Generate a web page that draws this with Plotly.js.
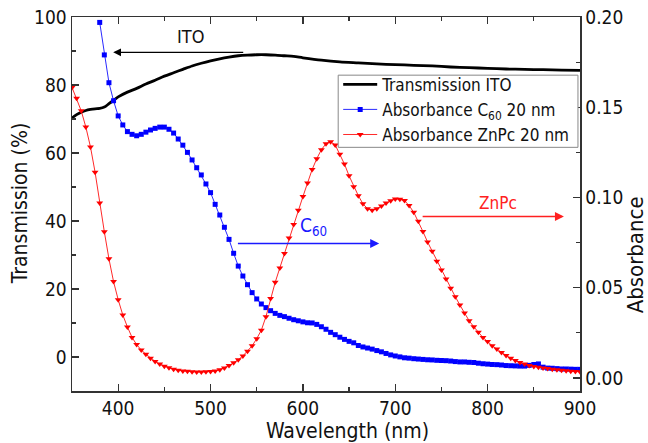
<!DOCTYPE html>
<html>
<head>
<meta charset="utf-8">
<script src="https://cdn.plot.ly/plotly-3.0.1.min.js"></script>
<style>html,body{margin:0;padding:0;background:#fff;}#chart{width:648px;height:443px;}</style>
</head>
<body>
<div id="chart"></div>
<script>
// ITO transmission (%)
const itoWl = [350,355,360,365,370,375,380,385,390,395,400,410,420,430,440,450,460,470,480,490,500,510,520,530,540,550,560,570,580,590,600,620,640,660,680,700,720,740,760,780,800,820,840,860,880,900];
const itoT  = [70.3,71.3,72.0,72.5,72.8,73.0,73.1,73.5,74.5,75.5,76.5,77.9,79.0,80.3,81.4,82.6,83.6,84.6,85.6,86.4,87.1,87.7,88.2,88.6,88.8,88.9,88.9,88.8,88.6,88.4,88.0,87.3,86.8,86.5,86.2,86.0,85.8,85.6,85.3,85.1,84.9,84.7,84.6,84.5,84.4,84.3];

// C60 absorbance
const c60Wl = [380,385,390,395,400,405,410,415,420,425,430,435,440,445,450,455,460,465,470,475,480,485,490,495,500,505,510,515,520,525,530,535,540,545,550,555,560,565,570,575,580,585,590,595,600,605,610,615,620,625,630,635,640,645,650,655,660,665,670,675,680,685,690,695,700,705,710,715,720,725,730,735,740,745,750,755,760,765,770,775,780,785,790,795,800,805,810,815,820,825,830,835,840,845,850,855,860,865,870,875,880,885,890,895,900];
const c60A  = [0.197,0.179,0.1636,0.1536,0.1452,0.1402,0.1365,0.1350,0.1342,0.1350,0.1362,0.1374,0.1383,0.1390,0.1390,0.1378,0.1357,0.1324,0.1290,0.1250,0.1208,0.1165,0.1125,0.1075,0.1027,0.0962,0.0903,0.0835,0.0768,0.0691,0.0620,0.0565,0.0517,0.0473,0.0438,0.0410,0.0390,0.0373,0.0358,0.0347,0.0340,0.0331,0.0323,0.0317,0.0311,0.0306,0.0305,0.0297,0.0284,0.0270,0.0253,0.0240,0.0226,0.0214,0.0203,0.0195,0.0180,0.0172,0.0166,0.0160,0.0152,0.0145,0.0136,0.0128,0.0122,0.0117,0.0112,0.0110,0.0107,0.0105,0.0103,0.0101,0.0100,0.0098,0.0097,0.0096,0.0094,0.0091,0.0089,0.0089,0.0087,0.0086,0.0082,0.0079,0.0077,0.0075,0.0074,0.0072,0.0069,0.0068,0.0067,0.0066,0.0066,0.0070,0.0075,0.0078,0.0060,0.0055,0.0054,0.0052,0.0050,0.0050,0.0049,0.0048,0.0048];

// ZnPc absorbance
const znpcWl = [350,355,360,365,370,375,380,385,390,395,400,405,410,415,420,425,430,435,440,445,450,455,460,465,470,475,480,485,490,495,500,505,510,515,520,525,530,535,540,545,550,555,560,565,570,575,580,585,590,595,600,605,610,615,620,625,630,635,640,645,650,655,660,665,670,675,680,685,690,695,700,705,710,715,720,725,730,735,740,745,750,755,760,765,770,775,780,785,790,795,800,805,810,815,820,825,830,835,840,845,850,855,860,865,870,875,880,885,890,895,900];
const znpcA  = [0.161,0.155,0.148,0.139,0.128,0.114,0.097,0.081,0.066,0.0534,0.0434,0.0349,0.0283,0.0225,0.0185,0.0155,0.0132,0.0110,0.0092,0.0077,0.0065,0.0057,0.0048,0.0043,0.0039,0.0037,0.0035,0.0033,0.0033,0.0034,0.0036,0.0039,0.0046,0.0056,0.0069,0.0085,0.0101,0.0122,0.0148,0.0178,0.0218,0.0265,0.0340,0.0440,0.0530,0.0610,0.0690,0.0775,0.0850,0.0930,0.1005,0.1080,0.1155,0.1215,0.1265,0.1298,0.1309,0.1291,0.1240,0.1185,0.1120,0.1060,0.1010,0.0965,0.0938,0.0930,0.0937,0.0953,0.0970,0.0982,0.0992,0.0990,0.0983,0.0955,0.0918,0.0868,0.0811,0.0753,0.0702,0.0647,0.0598,0.0549,0.0497,0.0450,0.0404,0.0360,0.0317,0.0284,0.0253,0.0224,0.0202,0.0178,0.0160,0.0141,0.0125,0.0110,0.0097,0.0086,0.0077,0.0069,0.0064,0.0060,0.0055,0.0052,0.0049,0.0046,0.0043,0.0040,0.0038,0.0036,0.0034];

const xTitle = 'Wavelength (nm)';
const yTitle = 'Transmission (%)';
const y2Title = 'Absorbance';

const FONT = 'DejaVu Sans Condensed, DejaVu Sans, sans-serif';

const traces = [
  {x: itoWl, y: itoT, type: 'scatter', mode: 'lines', name: 'Transmission ITO',
   line: {color: '#000000', width: 2.8, shape: 'spline', smoothing: 0.8}, yaxis: 'y'},
  {x: c60Wl, y: c60A, type: 'scatter', mode: 'lines+markers', name: 'Absorbance C<sub>60</sub> 20 nm',
   line: {color: '#2a2aff', width: 1}, marker: {symbol: 'square', size: 5, color: '#0000ff'}, yaxis: 'y2'},
  {x: znpcWl, y: znpcA, type: 'scatter', mode: 'lines+markers', name: 'Absorbance ZnPc 20 nm',
   line: {color: '#ff2a2a', width: 1}, marker: {symbol: 'triangle-down', size: 6, color: '#ff0000'}, yaxis: 'y2'}
];

const axisCommon = {
  showgrid: false, zeroline: false, showline: true, linecolor: '#333', linewidth: 1.5,
  ticks: 'inside', ticklen: 7, tickwidth: 1.2, tickcolor: '#333',
  tickfont: {family: FONT, size: 19, color: '#111'}
};

const layout = {
  width: 648, height: 443,
  margin: {l: 72, r: 68, t: 17, b: 52},
  paper_bgcolor: '#fff', plot_bgcolor: '#fff',
  font: {family: FONT, color: '#111'},
  xaxis: Object.assign({}, axisCommon, {
    range: [350, 900], dtick: 100, tick0: 0, mirror: 'ticks',
    minor: {dtick: 50, ticks: 'inside', ticklen: 4, tickcolor: '#333'}
  }),
  yaxis: Object.assign({}, axisCommon, {
    range: [-10, 100], dtick: 20, tick0: 0,
    minor: {dtick: 10, ticks: 'inside', ticklen: 4, tickcolor: '#333'}
  }),
  yaxis2: Object.assign({}, axisCommon, {
    overlaying: 'y', side: 'right',
    range: [-0.0072, 0.2], dtick: 0.05, tick0: 0, tickformat: '.2f',
    minor: {dtick: 0.025, ticks: 'inside', ticklen: 4, tickcolor: '#333'}
  }),
  showlegend: true,
  legend: {x: 0.524, y: 0.867, xanchor: 'left', yanchor: 'top',
    bgcolor: 'rgba(0,0,0,0)', borderwidth: 0,
    font: {family: FONT, size: 17, color: '#111'}, tracegroupgap: 0, itemwidth: 34},
  shapes: [
    {type: 'rect', xref: 'paper', yref: 'paper', x0: 0.524, x1: 0.996, y0: 0.6515, y1: 0.8445,
     fillcolor: '#fff', line: {color: '#888', width: 1}, layer: 'above'}
  ],
  annotations: [
    {x: 0.543, y: -0.107, xref: 'paper', yref: 'paper', text: xTitle, showarrow: false,
     xanchor: 'center', yanchor: 'middle', font: {family: FONT, size: 21, color: '#111'}},
    {x: -0.102, y: 0.5, xref: 'paper', yref: 'paper', text: yTitle, showarrow: false, textangle: -90,
     xanchor: 'center', yanchor: 'middle', font: {family: FONT, size: 21, color: '#111'}},
    {x: 1.110, y: 0.365, xref: 'paper', yref: 'paper', text: y2Title, showarrow: false, textangle: -90,
     xanchor: 'center', yanchor: 'middle', font: {family: FONT, size: 22, color: '#111'}},
    {x: 394.6, y: 89.6, ax: 537, ay: 89.6, xref: 'x', yref: 'y', axref: 'x', ayref: 'y',
     showarrow: true, arrowhead: 2, arrowsize: 1.2, arrowwidth: 1.3, arrowcolor: '#000', text: ''},
    {x: 478, y: 94.4, xref: 'x', yref: 'y', text: 'ITO', showarrow: false,
     font: {family: FONT, size: 18, color: '#111'}},
    {x: 682.6, y: 33.4, ax: 528, ay: 33.4, xref: 'x', yref: 'y', axref: 'x', ayref: 'y',
     showarrow: true, arrowhead: 2, arrowsize: 1.2, arrowwidth: 1.5, arrowcolor: '#1a1aff', text: ''},
    {x: 611, y: 38.5, xref: 'x', yref: 'y', text: 'C<sub>60</sub>', showarrow: false,
     font: {family: FONT, size: 19, color: '#1a1aff'}},
    {x: 882.6, y: 41.3, ax: 728, ay: 41.3, xref: 'x', yref: 'y', axref: 'x', ayref: 'y',
     showarrow: true, arrowhead: 2, arrowsize: 1.2, arrowwidth: 1.5, arrowcolor: '#ff2020', text: ''},
    {x: 811, y: 45.3, xref: 'x', yref: 'y', text: 'ZnPc', showarrow: false,
     font: {family: FONT, size: 17, color: '#ff2020'}}
  ]
};

Plotly.newPlot('chart', traces, layout, {displayModeBar: false, staticPlot: true});
</script>
</body>
</html>
